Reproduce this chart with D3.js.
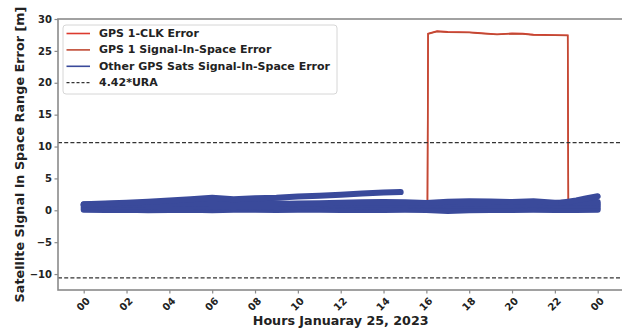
<!DOCTYPE html>
<html>
<head>
<meta charset="utf-8">
<script src="https://cdn.jsdelivr.net/npm/d3@7"></script>
<style>
  html, body { margin: 0; padding: 0; background: #fff; }
  svg { display: block; font-family: "DejaVu Sans", sans-serif; font-weight: bold; }
</style>
</head>
<body>
<svg id="chart" width="622" height="328"></svg>
<script>
// ---- data -------------------------------------------------------------
const hourGrid = [0,1,2,3,4,5,6,7,8,9,10,11,12,13,14,15,16,17,18,19,20,21,22,23,24];

// other GPS satellites, signal-in-space range error [m], hourly
const satA = [0.10,0.05,0.08,0.00,0.06,0.10,0.00,0.08,0.10,0.05,0.08,0.10,0.06,0.10,0.05,0.08,0.04,-0.12,0.02,0.06,0.05,0.08,0.04,0.06,0.10];
const satB = [0.38,0.35,0.40,0.36,0.42,0.38,0.40,0.36,0.40,0.38,0.35,0.40,0.38,0.42,0.36,0.40,0.38,0.35,0.40,0.38,0.42,0.36,0.40,0.38,0.40];
const satD = [0.66,0.62,0.68,0.65,0.70,0.66,0.64,0.68,0.65,0.66,0.62,0.68,0.70,0.65,0.66,0.68,0.72,0.70,0.74,0.70,0.72,0.68,0.70,0.72,0.70];
const satC = [0.90,0.98,1.06,1.16,1.26,1.38,1.48,1.30,1.36,1.10,0.90,0.92,0.95,0.92,0.95,0.98,0.95,1.00,1.02,0.98,1.00,0.96,0.98,1.00,0.98];
const satMid = [0.88,0.92,0.95,0.98,1.00,1.02,1.00,0.98,1.00,0.98,1.05,1.12,1.20,1.26,1.32,1.25,1.15,1.35,1.42,1.36,1.30,1.40,1.20,1.22,1.30];

// satellite that drops out of view before 15h
const hoursUp = [0,1,2,3,4,5,6,7,8,9,10,11,12,13,14,14.8];
const satUp = [0.95,1.05,1.20,1.35,1.55,1.75,1.95,1.75,1.88,1.95,2.15,2.30,2.45,2.62,2.78,2.85];

// satellite that rises in view after 22h
const hoursEnd = [22.3,23,23.5,24];
const satEnd = [1.20,1.55,1.90,2.20];

// GPS 1 (PRN 1) errors [m]
const gps1Hours = [0,2,4,6,8,10,12,14,16.05,16.08,16.5,17,18,18.4,19.3,20,20.5,21,22,22.6,22.63,23,24];
const gps1Clk = [0.60,0.65,0.70,0.72,0.75,0.78,0.80,0.82,0.90,27.72,28.10,27.98,27.92,27.82,27.60,27.74,27.70,27.55,27.48,27.46,1.00,0.90,0.80];
const gps1Sis = [0.60,0.65,0.70,0.72,0.75,0.78,0.80,0.82,0.90,27.66,28.02,27.94,27.88,27.78,27.55,27.70,27.66,27.50,27.44,27.40,1.00,0.90,0.80];

// 4.42 * URA bound [m]
const uraBound = [10.6, -10.6];

const xTickHours = [0,2,4,6,8,10,12,14,16,18,20,22,24];
const xTickLabels = ["00","02","04","06","08","10","12","14","16","18","20","22","00"];
const yTickValues = [-10,-5,0,5,10,15,20,25,30];

const legendLabels = ["GPS 1-CLK Error","GPS 1 Signal-In-Space Error","Other GPS Sats Signal-In-Space Error","4.42*URA"];

// ---- layout -----------------------------------------------------------
const svg = d3.select("#chart");
const pLeft = 58, pTop = 19, pRight = 623.4, pBottom = 290;

const x = d3.scaleLinear().domain([-1.2, 25.2]).range([pLeft, pRight]);
const y = d3.scaleLinear().domain([-12.5, 30]).range([pBottom, pTop]);

const colClk = "#dc3a2e", colSis = "#c04a34", colSat = "#3a4a9b", spine = "#8a8a8a", ink = "#222";

const plot = svg.append("g");

const line = (xs) => d3.line()
  .defined(d => d != null)
  .x((d, i) => x(xs[i]))
  .y(d => y(d));

// GPS 1 error curves
plot.append("path").datum(gps1Clk).attr("d", line(gps1Hours))
  .attr("fill", "none").attr("stroke", colClk).attr("stroke-width", 1.6);
plot.append("path").datum(gps1Sis).attr("d", line(gps1Hours))
  .attr("fill", "none").attr("stroke", colSis).attr("stroke-width", 1.5);

// other satellites, heavy strokes
const sats = [
  [hourGrid, satA], [hourGrid, satB], [hourGrid, satD], [hourGrid, satC],
  [hourGrid, satMid], [hoursUp, satUp], [hoursEnd, satEnd]
];
sats.forEach(([xs, vals]) => {
  plot.append("path").datum(vals).attr("d", line(xs))
    .attr("fill", "none").attr("stroke", colSat)
    .attr("stroke-width", 6).attr("stroke-linecap", "round").attr("stroke-linejoin", "round");
});

// URA bounds
uraBound.forEach(v => {
  plot.append("line").attr("x1", pLeft).attr("x2", pRight).attr("y1", y(v)).attr("y2", y(v))
    .attr("stroke", "#333").attr("stroke-width", 1.3).attr("stroke-dasharray", "4,2.2");
});

// frame
svg.append("rect").attr("x", pLeft).attr("y", pTop).attr("width", pRight - pLeft).attr("height", pBottom - pTop)
  .attr("fill", "none").attr("stroke", spine).attr("stroke-width", 1.6);

// y axis
const yAxis = svg.append("g").attr("transform", `translate(${pLeft},0)`)
  .call(d3.axisLeft(y).tickValues(yTickValues).tickSize(3.5).tickPadding(2.5)
    .tickFormat(d => d < 0 ? "\u2212" + Math.abs(d) : d));
yAxis.select(".domain").remove();
yAxis.selectAll(".tick line").attr("stroke", spine).attr("stroke-width", 1.2);
yAxis.selectAll(".tick text").attr("fill", ink).style("font-size", "10px").style("font-family", "DejaVu Sans").style("font-weight", "bold");

// x axis
const xAxis = svg.append("g").attr("transform", `translate(0,${pBottom})`)
  .call(d3.axisBottom(x).tickValues(xTickHours).tickSize(3.5).tickFormat(""));
xAxis.select(".domain").remove();
xAxis.selectAll(".tick line").attr("stroke", spine).attr("stroke-width", 1.2);
svg.append("g").selectAll("text").data(xTickHours).join("text")
  .attr("transform", d => `translate(${x(d) - 0.5},304) rotate(-45)`)
  .attr("text-anchor", "middle").attr("dominant-baseline", "central")
  .attr("fill", ink).style("font-size", "10px")
  .text((d, i) => xTickLabels[i]);

// axis titles
svg.append("text").attr("x", (pLeft + pRight) / 2).attr("y", 325)
  .attr("text-anchor", "middle").attr("fill", ink).style("font-size", "12.7px")
  .text("Hours Januaray 25, 2023");
svg.append("text").attr("transform", `translate(24,${(pTop + pBottom) / 2}) rotate(-90)`)
  .attr("text-anchor", "middle").attr("fill", ink).style("font-size", "12.8px")
  .text("Satellite Signal in Space Range Error [m]");

// legend
const lg = svg.append("g");
lg.append("rect").attr("x", 63).attr("y", 25).attr("width", 274).attr("height", 69).attr("rx", 3)
  .attr("fill", "#fff").attr("fill-opacity", 0.85).attr("stroke", "#d6d6d6").attr("stroke-width", 1);
const legendStyles = [
  { color: colClk, dash: null, w: 1.6 },
  { color: colSis, dash: null, w: 1.6 },
  { color: colSat, dash: null, w: 1.6 },
  { color: "#333", dash: "3,2", w: 1.3 }
];
legendLabels.forEach((lab, i) => {
  const cy = 33.5 + i * 16.4;
  lg.append("line").attr("x1", 66.5).attr("x2", 90).attr("y1", cy).attr("y2", cy)
    .attr("stroke", legendStyles[i].color).attr("stroke-width", legendStyles[i].w)
    .attr("stroke-dasharray", legendStyles[i].dash);
  lg.append("text").attr("x", 99).attr("y", cy).attr("dominant-baseline", "central")
    .attr("fill", ink).style("font-size", "11px").text(lab);
});
</script>
</body>
</html>
